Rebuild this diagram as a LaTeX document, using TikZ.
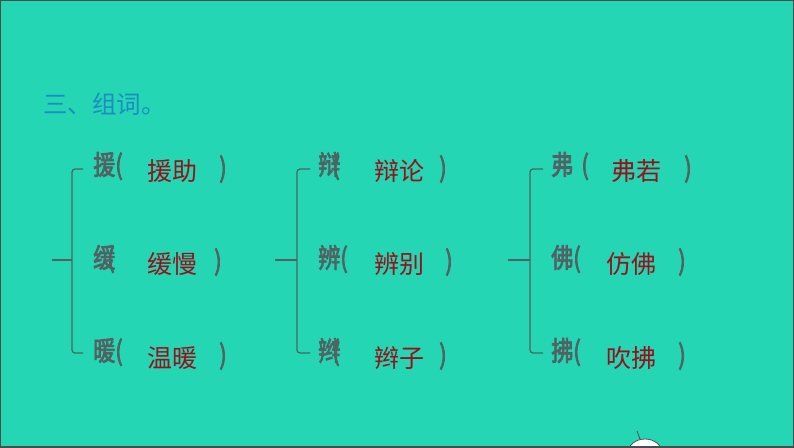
\documentclass[tikz,border=0pt]{standalone}
\usepackage{fontspec}
\newfontfamily\cjk{Noto Sans CJK SC}
\newfontfamily\cjkb[FakeBold=2.6, FakeStretch=0.82]{Noto Sans CJK SC}
\usetikzlibrary{positioning}
\definecolor{bg}{RGB}{36,214,180}
\definecolor{zigray}{RGB}{80,98,98}
\definecolor{cired}{RGB}{152,16,26}
\definecolor{tiblue}{RGB}{28,140,196}
\tikzstyle{zi} = [anchor=west, inner sep=0pt, text=zigray,
    font=\cjkb\fontsize{27}{27}\selectfont]
\tikzstyle{ci} = [anchor=west, inner sep=0pt, text=cired,
    font=\cjk\fontsize{25}{25}\selectfont]
\tikzstyle{kuo} = [anchor=west, inner sep=0pt, text=zigray,
    font=\cjkb\fontsize{27}{27}\selectfont]
\tikzstyle{brace} = [draw=zigray, line width=1.2pt, rounded corners=3pt]

\begin{document}
\begin{tikzpicture}[x=1pt, y=-1pt]
    % Background
    \fill[bg] (0,0) rectangle (794,447);
    \useasboundingbox (0,0) rectangle (794,447);
    % Title
    \node[anchor=west, inner sep=0pt, text=tiblue,
        font=\cjk\fontsize{24.5}{24.5}\selectfont] (title) at (43,104) {三、组词。};
    % Column 1
    \node[zi] (z11) at (93,166) {援(};
    \node[zi] (z12) at (93,259) {缓\kern-.3em(};
    \node[zi] (z13) at (93,352) {暖(};
    \node[ci] (c11) at (147,171) {援助};
    \node[ci] (c12) at (147,264) {缓慢};
    \node[ci] (c13) at (147,358) {温暖};
    \node[kuo] (k11) at (219,169) {)};
    \node[kuo] (k12) at (214,262) {)};
    \node[kuo] (k13) at (219,356) {)};
    % Column 2
    \node[zi] (z21) at (318,166) {辩\kern-.3em(};
    \node[zi] (z22) at (318,259) {辨(};
    \node[zi] (z23) at (318,352) {辫\kern-.3em(};
    \node[ci] (c21) at (374,171) {辩论};
    \node[ci] (c22) at (374,264) {辨别};
    \node[ci] (c23) at (374,358) {辫子};
    \node[kuo] (k21) at (439,169) {)};
    \node[kuo] (k22) at (445,262) {)};
    \node[kuo] (k23) at (439,356) {)};
    % Column 3
    \node[zi] (z31) at (551,166) {弗\kern.3em(};
    \node[zi] (z32) at (551,259) {佛(};
    \node[zi] (z33) at (551,352) {拂(};
    \node[ci] (c31) at (611,171) {弗若};
    \node[ci] (c32) at (606,264) {仿佛};
    \node[ci] (c33) at (606,358) {吹拂};
    \node[kuo] (k31) at (684,169) {)};
    \node[kuo] (k32) at (678,262) {)};
    \node[kuo] (k33) at (678,356) {)};
    % Braces
    \coordinate (t1) at (52,260);
    \coordinate (t2) at (275,260);
    \coordinate (t3) at (508,260);
    \draw[brace] ([xshift=-10pt,yshift=-3pt]z11.west) -- ++(-11,0)
        |- ([xshift=-10pt,yshift=-1pt]z13.west);
    \draw[brace] (t1) -- ([xshift=-21pt,yshift=-1pt]z12.west);
    \draw[brace] ([xshift=-8pt,yshift=-3pt]z21.west) -- ++(-13,0)
        |- ([xshift=-8pt,yshift=-1pt]z23.west);
    \draw[brace] (t2) -- ([xshift=-21pt,yshift=-1pt]z22.west);
    \draw[brace] ([xshift=-8pt,yshift=-3pt]z31.west) -- ++(-13,0)
        |- ([xshift=-8pt,yshift=-1pt]z33.west);
    \draw[brace] (t3) -- ([xshift=-21pt,yshift=-1pt]z32.west);
    % Figure at the bottom edge
    \begin{scope}
        \clip (0,0) rectangle (794,447);
        \draw[fill=white, draw=black!70, line width=0.8pt] (645,453) ellipse (17 and 14);
        \draw[black!70, line width=0.8pt] (640,439) -- (637,431);
    \end{scope}
    % Frame
    \draw[black!70, line width=1.5pt] (0,0) rectangle (794,447);
\end{tikzpicture}
\end{document}
